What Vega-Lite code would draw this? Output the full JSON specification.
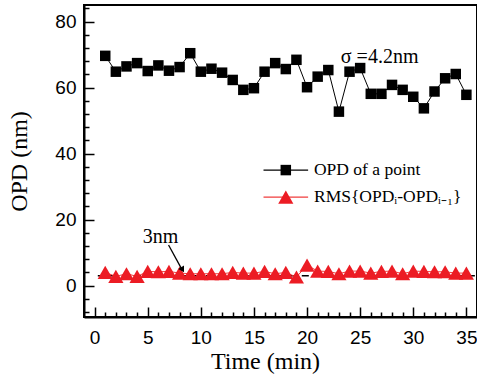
{
  "$schema": "https://vega.github.io/schema/vega-lite/v6.json",
  "width": 393,
  "height": 312,
  "padding": {"left": 7, "top": 5, "right": 5, "bottom": 5},
  "background": "white",
  "config": {
    "view": {"stroke": "black", "strokeWidth": 2},
    "style": {"guide-title": {"fontWeight": 300}},
    "axis": {"domainColor": "black", "domainWidth": 2, "tickColor": "black", "tickWidth": 1.5, "labelColor": "black", "titleColor": "black", "grid": false, "labelFont": "Liberation Sans", "labelFontSize": 19, "titleFont": "Liberation Serif", "titleFontSize": 24, "titleFontWeight": 300}
  },
  "datasets": {
    "opd": [
      {"t": 1, "v": 69.6}, {"t": 2, "v": 64.8}, {"t": 3, "v": 66.4}, {"t": 4, "v": 67.4}, {"t": 5, "v": 65.0},
      {"t": 6, "v": 66.7}, {"t": 7, "v": 65.1}, {"t": 8, "v": 66.2}, {"t": 9, "v": 70.4}, {"t": 10, "v": 64.8},
      {"t": 11, "v": 65.7}, {"t": 12, "v": 64.5}, {"t": 13, "v": 62.3}, {"t": 14, "v": 59.3}, {"t": 15, "v": 59.8},
      {"t": 16, "v": 64.8}, {"t": 17, "v": 67.4}, {"t": 18, "v": 65.6}, {"t": 19, "v": 68.4}, {"t": 20, "v": 60.1},
      {"t": 21, "v": 63.3}, {"t": 22, "v": 65.3}, {"t": 23, "v": 52.7}, {"t": 24, "v": 64.8}, {"t": 25, "v": 65.9},
      {"t": 26, "v": 58.1}, {"t": 27, "v": 58.1}, {"t": 28, "v": 60.8}, {"t": 29, "v": 59.3}, {"t": 30, "v": 57.2},
      {"t": 31, "v": 53.7}, {"t": 32, "v": 58.8}, {"t": 33, "v": 62.8}, {"t": 34, "v": 64.1}, {"t": 35, "v": 57.8}
    ],
    "rms": [
      {"t": 1, "v": 4.0}, {"t": 2, "v": 2.8}, {"t": 3, "v": 3.6}, {"t": 4, "v": 2.8}, {"t": 5, "v": 4.3},
      {"t": 6, "v": 4.2}, {"t": 7, "v": 4.3}, {"t": 8, "v": 3.8}, {"t": 9, "v": 3.6}, {"t": 10, "v": 3.6},
      {"t": 11, "v": 3.6}, {"t": 12, "v": 3.6}, {"t": 13, "v": 4.0}, {"t": 14, "v": 3.8}, {"t": 15, "v": 3.8},
      {"t": 16, "v": 4.3}, {"t": 17, "v": 3.6}, {"t": 18, "v": 4.0}, {"t": 19, "v": 2.6}, {"t": 20, "v": 6.2},
      {"t": 21, "v": 4.4}, {"t": 22, "v": 4.3}, {"t": 23, "v": 3.6}, {"t": 24, "v": 4.4}, {"t": 25, "v": 4.4},
      {"t": 26, "v": 3.8}, {"t": 27, "v": 4.3}, {"t": 28, "v": 4.4}, {"t": 29, "v": 3.6}, {"t": 30, "v": 4.4},
      {"t": 31, "v": 4.3}, {"t": 32, "v": 4.2}, {"t": 33, "v": 4.2}, {"t": 34, "v": 3.8}, {"t": 35, "v": 3.8}
    ],
    "dash": [{"t": 0.3, "v": 3}, {"t": 35.8, "v": 3}],
    "legline": [
      {"s": "a", "t": 15.9, "v": 35.0}, {"s": "a", "t": 20.1, "v": 35.0},
      {"s": "b", "t": 15.9, "v": 26.8}, {"s": "b", "t": 20.1, "v": 26.8}
    ],
    "legsq": [{"t": 18, "v": 35.0}],
    "legtri": [{"t": 18, "v": 26.8}],
    "legtext": [
      {"t": 20.65, "v": 35.0, "label": "OPD of a point"},
      {"t": 20.65, "v": 26.8, "label": "RMS{OPDᵢ-OPDᵢ₋₁}"}
    ],
    "notes": [
      {"t": 23.18, "v": 67.5, "label": "σ =4.2nm"},
      {"t": 4.52, "v": 13.0, "label": "3nm"}
    ],
    "arrow": [{"t": 6.96, "v": 12.3}, {"t": 8.2, "v": 5.0}],
    "arrowhead": [{"t": 8.28, "v": 4.8}]
  },
  "resolve": {"axis": {"x": "independent", "y": "independent"}},
  "layer": [
    {
      "data": {"name": "opd"},
      "mark": {"type": "line", "color": "black", "strokeWidth": 1},
      "encoding": {
        "x": {"field": "t", "type": "quantitative", "scale": {"domain": [-1, 36], "nice": false, "zero": false},
          "axis": {"orient": "bottom", "values": [0, 5, 10, 15, 20, 25, 30, 35], "tickSize": -10, "labelPadding": 21, "title": "Time (min)", "titlePadding": 2, "titleX": 181, "titleFont": "Liberation Serif", "titleFontWeight": 300}},
        "y": {"field": "v", "type": "quantitative", "scale": {"domain": [-9.5, 85], "nice": false, "zero": false},
          "axis": {"orient": "left", "values": [0, 20, 40, 60, 80], "tickSize": -10, "labelPadding": 18, "title": "OPD (nm)", "titlePadding": 23, "titleFont": "Liberation Serif", "titleFontWeight": 300}}
      }
    },
    {
      "data": {"name": "dash"},
      "mark": {"type": "line", "color": "black", "strokeWidth": 1.5, "strokeDash": [7, 5]},
      "encoding": {
        "x": {"field": "t", "type": "quantitative",
          "axis": {"orient": "bottom", "values": [1,2,3,4,6,7,8,9,11,12,13,14,16,17,18,19,21,22,23,24,26,27,28,29,31,32,33,34], "tickSize": -5, "labels": false, "domain": false, "title": null}},
        "y": {"field": "v", "type": "quantitative",
          "axis": {"orient": "left", "values": [-8,-4,4,8,12,16,24,28,32,36,44,48,52,56,64,68,72,76,84], "tickSize": -5, "labels": false, "domain": false, "title": null}}
      }
    },
    {
      "data": {"name": "rms"},
      "mark": {"type": "line", "color": "#f03c3c", "strokeWidth": 1},
      "encoding": {
        "x": {"field": "t", "type": "quantitative", "axis": null},
        "y": {"field": "v", "type": "quantitative", "axis": null}
      }
    },
    {
      "data": {"name": "opd"},
      "mark": {"type": "point", "shape": "square", "filled": true, "color": "black", "size": 110, "opacity": 1},
      "encoding": {
        "x": {"field": "t", "type": "quantitative", "axis": null},
        "y": {"field": "v", "type": "quantitative", "axis": null}
      }
    },
    {
      "data": {"name": "rms"},
      "mark": {"type": "point", "shape": "triangle-up", "filled": true, "color": "#ec1c24", "size": 230, "opacity": 1},
      "encoding": {
        "x": {"field": "t", "type": "quantitative", "axis": null},
        "y": {"field": "v", "type": "quantitative", "axis": null}
      }
    },
    {
      "data": {"name": "legline"},
      "mark": {"type": "line", "strokeWidth": 1.2},
      "encoding": {
        "x": {"field": "t", "type": "quantitative", "axis": null},
        "y": {"field": "v", "type": "quantitative", "axis": null},
        "detail": {"field": "s"},
        "color": {"field": "s", "type": "nominal", "scale": {"domain": ["a", "b"], "range": ["black", "#f03c3c"]}, "legend": null}
      }
    },
    {
      "data": {"name": "legsq"},
      "mark": {"type": "point", "shape": "square", "filled": true, "color": "black", "size": 110, "opacity": 1},
      "encoding": {
        "x": {"field": "t", "type": "quantitative", "axis": null},
        "y": {"field": "v", "type": "quantitative", "axis": null}
      }
    },
    {
      "data": {"name": "legtri"},
      "mark": {"type": "point", "shape": "triangle-up", "filled": true, "color": "#ec1c24", "size": 230, "opacity": 1},
      "encoding": {
        "x": {"field": "t", "type": "quantitative", "axis": null},
        "y": {"field": "v", "type": "quantitative", "axis": null}
      }
    },
    {
      "data": {"name": "legtext"},
      "mark": {"type": "text", "align": "left", "baseline": "middle", "font": "Liberation Serif", "fontSize": 17.5, "color": "black"},
      "encoding": {
        "x": {"field": "t", "type": "quantitative", "axis": null},
        "y": {"field": "v", "type": "quantitative", "axis": null},
        "text": {"field": "label"}
      }
    },
    {
      "data": {"name": "notes"},
      "mark": {"type": "text", "align": "left", "baseline": "alphabetic", "font": "Liberation Serif", "fontSize": 20, "color": "black"},
      "encoding": {
        "x": {"field": "t", "type": "quantitative", "axis": null},
        "y": {"field": "v", "type": "quantitative", "axis": null},
        "text": {"field": "label"}
      }
    },
    {
      "data": {"name": "arrow"},
      "mark": {"type": "line", "color": "black", "strokeWidth": 1.3},
      "encoding": {
        "x": {"field": "t", "type": "quantitative", "axis": null},
        "y": {"field": "v", "type": "quantitative", "axis": null}
      }
    },
    {
      "data": {"name": "arrowhead"},
      "mark": {"type": "point", "shape": "triangle-up", "filled": true, "color": "black", "size": 45, "angle": 150, "opacity": 1},
      "encoding": {
        "x": {"field": "t", "type": "quantitative", "axis": null},
        "y": {"field": "v", "type": "quantitative", "axis": null}
      }
    }
  ]
}
